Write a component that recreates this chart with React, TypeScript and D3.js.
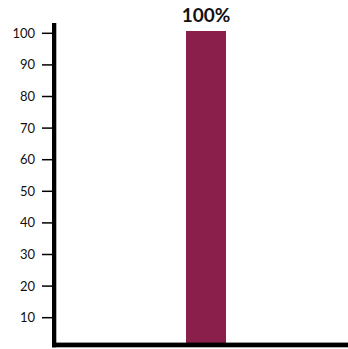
import React from "react";
import * as d3 from "d3";

const categories = ["A"];
const values = [100];
const valueLabels = ["100%"];
const yTicks = [10, 20, 30, 40, 50, 60, 70, 80, 90, 100];

export default function App() {
  const width = 348;
  const height = 349;
  const y = d3.scaleLinear().domain([0, 100]).range([349.3, 33.3]);
  const x = d3.scaleBand().domain(categories).range([56, 356]).padding(0.7647);
  const axisY = 342.6;
  const font = "Lato, 'DejaVu Sans', sans-serif";
  return (
    <svg
      width={width}
      height={height}
      style={{ position: "absolute", left: 0, top: 0, display: "block", background: "#fff" }}
    >
      {categories.map((c, i) => (
        <g key={c}>
          <rect
            x={x(c)!}
            width={x.bandwidth()}
            y={y(values[i]) - 2.3}
            height={axisY + 1 - (y(values[i]) - 2.3)}
            fill="#8a1f4b"
          />
          <text
            x={x(c)! + x.bandwidth() / 2}
            y={22}
            textAnchor="middle"
            fontFamily={font}
            fontWeight={700}
            fontSize={19}
            fill="#111"
          >
            {valueLabels[i]}
          </text>
        </g>
      ))}
      {yTicks.map((t) => (
        <g key={t}>
          <line x1={42} x2={53} y1={y(t)} y2={y(t)} stroke="#000" strokeWidth={1.5} />
          <text
            x={35}
            y={y(t)}
            dy="0.35em"
            textAnchor="end"
            fontFamily={font}
            fontSize={13}
            fill="#111"
          >
            {t}
          </text>
        </g>
      ))}
      <rect x={52} y={23} width={4.3} height={324.3} fill="#000" />
      <rect x={52} y={axisY} width={296} height={4.7} fill="#000" />
    </svg>
  );
}
